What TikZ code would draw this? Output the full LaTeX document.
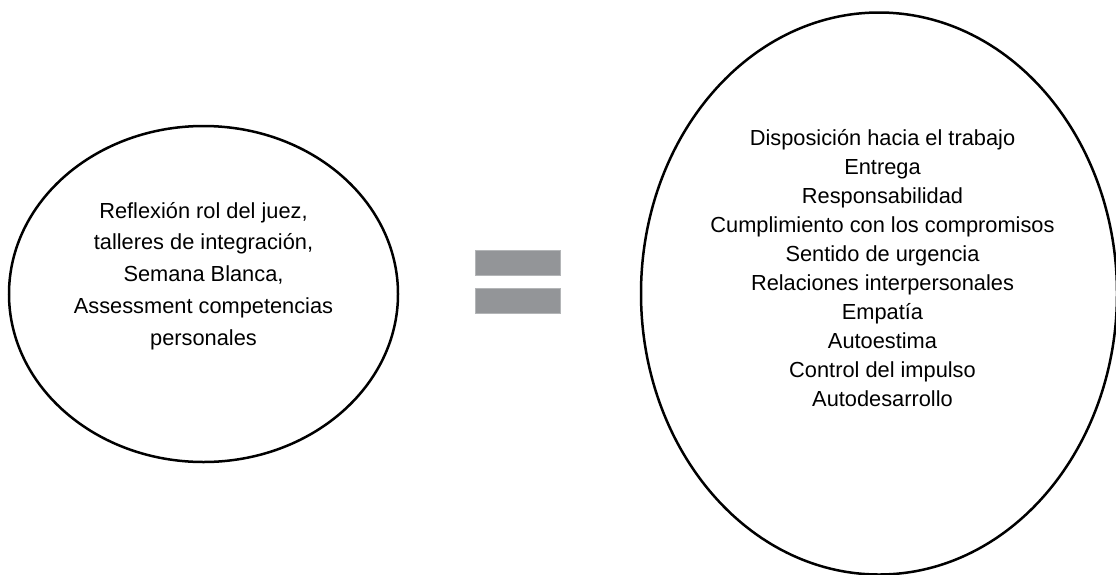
\documentclass[tikz,border=0pt]{standalone}
\usepackage{fontspec}
\setmainfont{Liberation Sans}
\usetikzlibrary{shapes.geometric}
\definecolor{eqgray}{HTML}{939598}
\tikzset{
  oval/.style={ellipse, draw=black, line width=2.5pt, inner sep=0pt},
  lefttxt/.style={align=center, inner sep=0pt, font=\fontsize{21.8pt}{31.8pt}\selectfont},
  righttxt/.style={align=center, inner sep=0pt, font=\fontsize{21.8pt}{29pt}\selectfont},
  bar/.style={fill=eqgray, draw=eqgray!70, line width=0.6pt, minimum width=85pt, minimum height=25pt, inner sep=0pt}
}
\begin{document}
\begin{tikzpicture}[x=1pt,y=-1pt]
\useasboundingbox (0,0) rectangle (1116,574);
\node[oval, minimum width=389pt, minimum height=336pt] (L) at (203.5,294) {};
\node[lefttxt] (Lt) at (203.5,276) {Reflexión rol del juez,\\talleres de integración,\\Semana Blanca,\\Assessment competencias\\personales};
\node[bar] (eq1) at (517.5,262.5) {};
\node[bar] (eq2) at (517.5,300.5) {};
\node[oval, minimum width=476pt, minimum height=562pt] (R) at (879,293.5) {};
\node[righttxt] (Rt) at (882.5,268) {Disposición hacia el trabajo\\Entrega\\Responsabilidad\\Cumplimiento con los compromisos\\Sentido de urgencia\\Relaciones interpersonales\\Empatía\\Autoestima\\Control del impulso\\Autodesarrollo};
\end{tikzpicture}
\end{document}
